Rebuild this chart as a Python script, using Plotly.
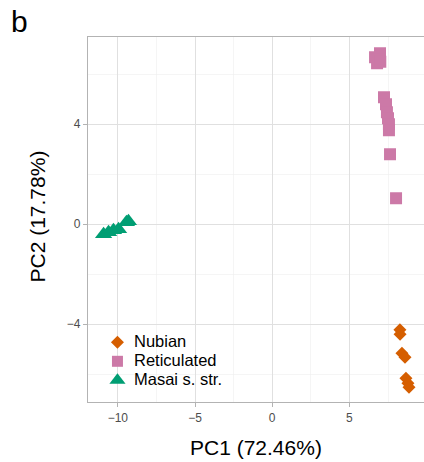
import plotly.graph_objects as go

# Data
nubian_x = [8.27, 8.28, 8.40, 8.60, 8.66, 8.79, 8.86]
nubian_y = [-4.22, -4.40, -5.16, -5.32, -6.16, -6.36, -6.52]

retic_x = [6.66, 6.98, 6.79, 6.90, 7.00, 7.24, 7.37, 7.43, 7.50, 7.56, 7.56, 7.63, 8.02]
retic_y = [6.68, 6.84, 6.44, 6.60, 6.50, 5.08, 4.80, 4.48, 4.24, 4.00, 3.76, 2.80, 1.04]

masai_x = [-10.92, -10.60, -10.28, -9.95, -9.31, -9.44]
masai_y = [-0.40, -0.32, -0.24, -0.20, 0.12, 0.08]

series_names = ["Nubian", "Reticulated", "Masai s. str."]
series_colors = ["#D55E00", "#CC79A7", "#009E73"]
series_symbols = ["diamond", "square", "triangle-up"]

x_ticks = [-10, -5, 0, 5]
x_ticklabels = ["\u221210", "\u22125", "0", "5"]
y_ticks = [-4, 0, 4]
y_ticklabels = ["\u22124", "0", "4"]

W, H = 424, 462
L, T, R, B = 87.5, 36.7, 0, 60.3
PW, PH = W - L - R, H - T - B
FONT = "Liberation Sans, Arial, sans-serif"

fig = go.Figure()
sizes = [10, 12, 15]
for xs, ys, nm, col, sym, sz in zip([nubian_x, retic_x, masai_x], [nubian_y, retic_y, masai_y],
                                    series_names, series_colors, series_symbols, sizes):
    fig.add_trace(go.Scatter(x=xs, y=ys, mode="markers", name=nm, showlegend=False,
                             hoverinfo="skip", opacity=1,
                             marker=dict(symbol=sym, size=sz, color=col, opacity=1,
                                         line=dict(width=0))))

# custom legend (keys placed in paper space through an overlay axis pair)
leg_x_px = 117
leg_y_px = [342, 361, 380]
leg_sizes = [10, 11, 14]
fig.add_trace(go.Scatter(
    x=[(leg_x_px - L) / PW] * 3,
    y=[1 - (py - T) / PH for py in leg_y_px],
    xaxis="x2", yaxis="y2", mode="markers", showlegend=False, hoverinfo="skip", opacity=1,
    marker=dict(symbol=series_symbols, size=leg_sizes, color=series_colors, opacity=1,
                line=dict(width=0))))
for nm, py in zip(series_names, leg_y_px):
    fig.add_annotation(text=nm, x=(133 - L) / PW, xref="paper", xanchor="left",
                       y=1 - (py - T) / PH, yref="paper", yanchor="middle", yshift=1,
                       height=16, valign="middle", borderpad=0,
                       showarrow=False, font=dict(family=FONT, size=16.5, color="black"))

grid = "#e0e0e0"
border = "#b3b3b3"
fig.update_layout(
    xaxis=dict(range=[-11.93, 9.83], tickvals=x_ticks, ticktext=x_ticklabels,
               showgrid=True, gridcolor=grid, gridwidth=1,
               minor=dict(dtick=2.5, showgrid=True, gridcolor="#efefef", gridwidth=0.6),
               zeroline=False, showline=True, linecolor=border, linewidth=1.2, mirror=True,
               ticks="outside", ticklen=4, tickcolor=border,
               tickfont=dict(family=FONT, size=12, color="#4d4d4d")),
    yaxis=dict(range=[-7.11, 7.49], tickvals=y_ticks, ticktext=y_ticklabels,
               showgrid=True, gridcolor=grid, gridwidth=1,
               minor=dict(dtick=2, showgrid=True, gridcolor="#efefef", gridwidth=0.6),
               zeroline=False, showline=True, linecolor=border, linewidth=1.2, mirror=False,
               ticks="outside", ticklen=4, tickcolor=border,
               tickfont=dict(family=FONT, size=12, color="#4d4d4d")),
    xaxis2=dict(range=[0, 1], overlaying="x", visible=False, fixedrange=True),
    yaxis2=dict(range=[0, 1], overlaying="y", visible=False, fixedrange=True),
)

fig.add_annotation(text="PC1 (72.46%)", x=0.5, xref="paper", y=0, yref="paper",
                   yanchor="top", yshift=-32, showarrow=False,
                   font=dict(family=FONT, size=21, color="black"))
fig.add_annotation(text="PC2 (17.78%)", x=0, xref="paper", xshift=-51, y=0.5, yref="paper",
                   yshift=3, textangle=-90, showarrow=False, xanchor="center", yanchor="middle",
                   font=dict(family=FONT, size=21, color="black"))
fig.add_annotation(text="b", x=0, xref="paper", xanchor="left", xshift=8 - L,
                   y=1, yref="paper", yanchor="top", yshift=T - 3, showarrow=False,
                   font=dict(family=FONT, size=30, color="black"))

fig.update_layout(
    width=W, height=H,
    margin=dict(l=L, t=T, r=R, b=B, pad=0),
    paper_bgcolor="white", plot_bgcolor="white",
    showlegend=False, hovermode=False,
)

fig.write_html("out.html", config={"displayModeBar": False, "staticPlot": True},
               post_script="document.body.style.margin='0px';")
